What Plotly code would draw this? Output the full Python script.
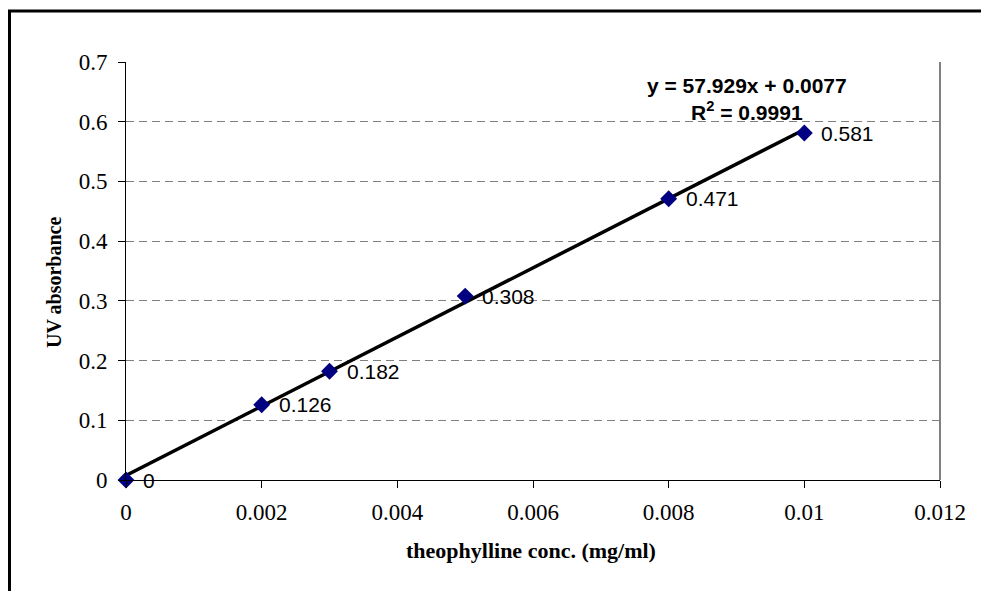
import plotly.graph_objects as go

# ---- data ----
conc = [0, 0.002, 0.003, 0.005, 0.008, 0.01]
absorb = [0, 0.126, 0.182, 0.308, 0.471, 0.581]
point_labels = ["0", "0.126", "0.182", "0.308", "0.471", "0.581"]
fit_slope = 57.929
fit_intercept = 0.0077
fit_r2 = 0.9991
x_ticks = [0, 0.002, 0.004, 0.006, 0.008, 0.01, 0.012]
x_tick_text = ["0", "0.002", "0.004", "0.006", "0.008", "0.01", "0.012"]
y_ticks = [0, 0.1, 0.2, 0.3, 0.4, 0.5, 0.6, 0.7]
y_tick_text = ["0", "0.1", "0.2", "0.3", "0.4", "0.5", "0.6", "0.7"]

trend_x = [min(conc), max(conc)]
trend_y = [fit_slope * v + fit_intercept for v in trend_x]

# figure geometry (page has an 8px body margin)
W, H = 981, 583
L, T, PW, PH = 118, 54, 814, 418
R, B = W - L - PW, H - T - PH


def px(x):
    return (x - L) / PW


def py(y):
    return (T + PH - y) / PH


fig = go.Figure()
fig.add_trace(go.Scatter(
    x=trend_x, y=trend_y, mode="lines",
    line=dict(color="black", width=3.5), hoverinfo="skip", showlegend=False,
))
fig.add_trace(go.Scatter(
    x=conc, y=absorb, mode="markers",
    marker=dict(symbol="diamond", size=13, color="#000080"),
    showlegend=False, cliponaxis=False,
))

serif = "Liberation Serif, Times New Roman"
sans = "Liberation Sans, Arial"

annotations = [
    dict(x=xv, y=yv, xref="x", yref="y", text=lab, showarrow=False,
         xanchor="left", yanchor="middle", xshift=15, yshift=0,
         font=dict(family=sans, size=21, color="black"))
    for xv, yv, lab in zip(conc, absorb, point_labels)
]
annotations += [
    dict(text="<b>y = %.3fx + %.4f<br>R<sup>2</sup> = %.4f</b>" % (fit_slope, fit_intercept, fit_r2),
         xref="paper", yref="paper", x=px(739), y=py(91),
         xanchor="center", yanchor="middle", showarrow=False, align="center",
         font=dict(family=sans, size=21, color="black")),
    dict(text="<b>theophylline conc. (mg/ml)</b>", xref="paper", yref="paper",
         x=px(523), y=py(542), xanchor="center", yanchor="middle", showarrow=False,
         font=dict(family=serif, size=22)),
    dict(text="<b>UV absorbance</b>", xref="paper", yref="paper", textangle=-90,
         x=px(46), y=py(275), xanchor="center", yanchor="middle",
         showarrow=False, font=dict(family=serif, size=20)),
]

fig.update_layout(
    width=W, height=H,
    margin=dict(l=L, r=R, t=T, b=B, pad=0),
    paper_bgcolor="white", plot_bgcolor="white",
    font=dict(family=serif, color="black"),
    showlegend=False,
    xaxis=dict(
        range=[0, 0.012], tickvals=x_ticks, ticktext=x_tick_text,
        showgrid=False, zeroline=False, showline=True, linecolor="black", linewidth=1,
        ticks="outside", ticklen=7, tickcolor="black",
        tickfont=dict(family=serif, size=23), ticklabelstandoff=4,
    ),
    yaxis=dict(
        range=[0, 0.7], tickvals=y_ticks, ticktext=y_tick_text,
        showgrid=True, gridcolor="#808080", griddash="8px,5px", gridwidth=1,
        zeroline=False, showline=True, linecolor="black", linewidth=1,
        ticks="outside", ticklen=7, tickcolor="black",
        tickfont=dict(family=serif, size=23), ticklabelstandoff=6,
    ),
    shapes=[
        # outer chart border (extends past the window on right/bottom)
        dict(type="rect", xref="paper", yref="paper",
             x0=px(1.5), x1=1.2, y0=-0.5, y1=py(3),
             line=dict(color="black", width=3), fillcolor="rgba(0,0,0,0)", layer="above"),
        # gray right border of plot area
        dict(type="line", xref="paper", yref="paper", x0=1, x1=1, y0=0, y1=1,
             line=dict(color="#808080", width=2)),
    ],
    annotations=annotations,
)

fig.write_html("out.html")
